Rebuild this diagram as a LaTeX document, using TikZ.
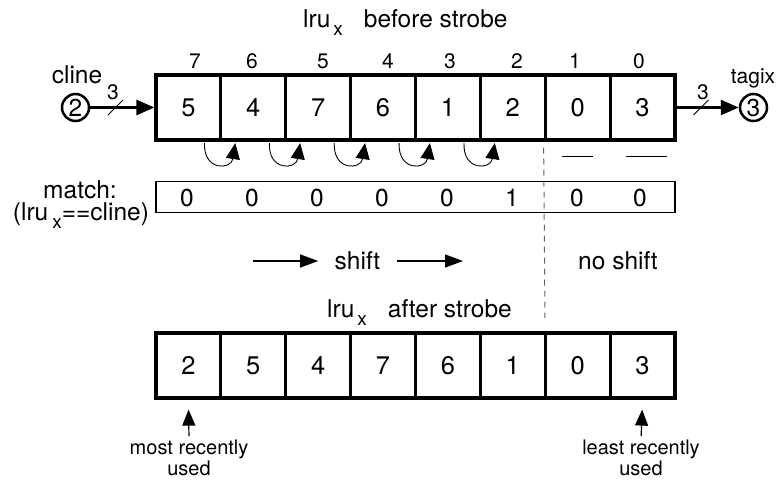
\documentclass[tikz,border=0pt]{standalone}
\usepackage{fontspec}
\setmainfont{TeX Gyre Heros}
\usetikzlibrary{arrows.meta,calc}
\begin{document}
\begin{tikzpicture}[x=1pt,y=-1pt,
  big/.style={font=\fontsize{24.5}{28}\selectfont},
  digit/.style={font=\fontsize{25.5}{28}\selectfont},
  mid/.style={font=\fontsize{21}{24}\selectfont},
  small/.style={font=\fontsize{20}{20.5}\selectfont},
  cell/.style={draw,line width=3.2pt,minimum width=64.875pt,minimum height=65pt,inner sep=0pt,digit},
  circ/.style={draw,circle,line width=2.5pt,minimum size=27pt,inner sep=0pt,big},
  thickarrow/.style={line width=2.5pt,-{Triangle[length=18pt,width=15pt]}},
  curv/.style={line width=0.9pt,-{Triangle[length=16pt,width=14pt]}},
  sarrow/.style={line width=1.3pt,-{Triangle[length=18pt,width=13pt]}},
  uarrow/.style={line width=1.2pt,-{Triangle[length=16pt,width=13pt]}},
  slash/.style={line width=1pt},
  dline/.style={line width=1pt,gray!80!black,dash pattern=on 6pt off 5pt},
  ]
\useasboundingbox (0,0) rectangle (777,483);

% title
\node[big,anchor=base west,inner sep=0pt] (title1) at (303,27)
  {lru\hspace{3pt}\raisebox{-8pt}{\fontsize{19}{22}\selectfont x}\hspace{21pt}before strobe};

% top cells
\foreach \i/\v [count=\k from 0] in {7/5,6/4,5/7,4/6,3/1,2/2,1/0,0/3}
  \node[cell] (t\i) at ({156+64.875*(\k+0.5)},107.5) {\v};

% index labels
\foreach \i/\x in {7/195,6/252,5/323,4/388,3/450,2/517,1/575,0/639}
  \node[mid,anchor=base,inner sep=0pt] (n\i) at (\x,68) {\i};

% cline
\node[circ] (c2) at (75.5,107.5) {2};
\node[big,anchor=base,inner sep=0pt] (clinelab) at (77,83) {cline};
\draw[thickarrow] (c2) -- (t7);
\coordinate (sl1) at (115.5,107.5);
\draw[slash] ($(sl1)+(-7.5,7.5)$) -- ($(sl1)+(7.5,-7.5)$);
\node[mid,anchor=base,inner sep=0pt] (w1) at (113,99) {3};

% tagix
\node[circ] (c3) at (753.5,107.5) {3};
\node[mid,anchor=base,inner sep=0pt] (tagixlab) at (753,83) {tagix};
\draw[thickarrow] (t0) -- (c3);
\coordinate (sl2) at (701,107.5);
\draw[slash] ($(sl2)+(-7.5,7.5)$) -- ($(sl2)+(7.5,-7.5)$);
\node[mid,anchor=base,inner sep=0pt] (w2) at (703,99) {3};

% curved shift arrows
\foreach \a/\b in {7/6,6/5,5/4,4/3,3/2}
  \draw[curv] ($(t\a.south east)+(-18,1.5)$) .. controls ($(t\a.south east)+(-19,30)$) and ($(t\b.south west)+(12,28)$) .. ($(t\b.south west)+(16,1.5)$);

% no-shift marks
\draw[line width=0.9pt] ($(t1.south)+(-15.5,15)$) -- ($(t1.south)+(15.5,15)$);
\draw[line width=0.9pt] ($(t0.south)+(-16.5,15)$) -- ($(t0.south)+(24.5,15)$);

% dashed separator
\coordinate (dend) at (545,318);
\draw[dline] ($(t1.south west)+(0,6)$) -- (dend);

% match row
\node[draw,line width=1.1pt,minimum width=519pt,minimum height=31pt,inner sep=0pt] (mb) at (415.5,197) {};
\foreach \x/\v in {187/0,252/0,317/0,382/0,447/0,512/1,577/0,640/0}
  \node[big,anchor=base,inner sep=0pt] at (\x,206) {\v};
\node[big,anchor=base,inner sep=0pt] (matchlab) at (80,198) {match:};
\node[big,anchor=base,inner sep=0pt] (matchlab2) at (81,220)
  {(lru\hspace{4pt}\raisebox{-8pt}{\fontsize{19}{22}\selectfont x}==cline)};

% shift row
\node[big] (sh) at (357.5,261) {shift};
\coordinate (s1) at (253,261);
\coordinate (s2) at (463,261);
\draw[sarrow,shorten >=13pt] (s1) -- (sh.west);
\draw[sarrow,shorten <=13pt] (sh.east) -- (s2);
\node[big] (nosh) at (618,261) {no shift};

% after title
\node[big,anchor=base west,inner sep=0pt] (title2) at (327,317)
  {lru\hspace{3pt}\raisebox{-8pt}{\fontsize{19}{22}\selectfont x}\hspace{21pt}after strobe};

% bottom cells
\foreach \v [count=\k from 0] in {2,5,4,7,6,1,0,3}
  \node[cell] (b\k) at ({156+64.875*(\k+0.5)},365.5) {\v};

% bottom labels
\node[small,align=center,anchor=north,inner sep=0pt] (mru) at (189,440) {most recently\\used};
\node[small,align=center,anchor=north,inner sep=0pt] (lru) at (641,440) {least recently\\used};
\draw[uarrow,shorten <=4pt,shorten >=10pt] (mru.north) -- (b0.south);
\draw[uarrow,shorten <=4pt,shorten >=10pt] (lru.north) -- (b7.south);
\end{tikzpicture}
\end{document}
